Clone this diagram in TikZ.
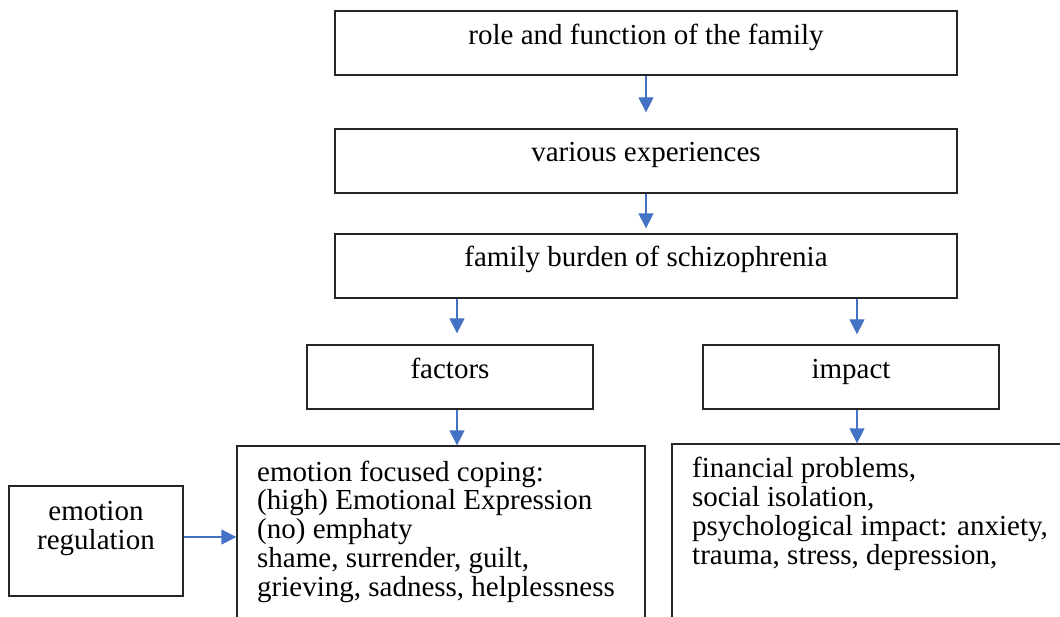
\documentclass[tikz,border=0pt]{standalone}
\usepackage{fontspec}
\setmainfont{Liberation Serif}
\usepackage{tikz}
\usetikzlibrary{arrows.meta}
\definecolor{arrowblue}{HTML}{4472C4}

\begin{document}
\begin{tikzpicture}[x=1pt,y=-1pt,inner sep=0pt,
  box/.style={rectangle,draw=black!85,line width=1.3pt},
  arr/.style={draw=arrowblue,line width=1.3pt,-{Triangle[width=15pt,length=15pt]}},
  txt/.style={black,font=\fontsize{29}{28.7}\selectfont,anchor=base}]
\useasboundingbox (0,0) rectangle (1060,617);
\clip (0,0) rectangle (1060,617);
%Node Coordinates
\node at (646,43) [box,minimum width=622pt,minimum height=64pt] (Role) {};
\node at (646,161) [box,minimum width=622pt,minimum height=64pt] (Various) {};
\node at (646,266) [box,minimum width=622pt,minimum height=64pt] (Burden) {};
\node at (450,377) [box,minimum width=286pt,minimum height=64pt] (Factors) {};
\node at (851,377) [box,minimum width=296pt,minimum height=64pt] (Impact) {};
\node at (441,543) [box,minimum width=408pt,minimum height=194pt] (Coping) {};
\node at (873.5,542) [box,minimum width=403pt,minimum height=196pt] (Effects) {};
\node at (96,541) [box,minimum width=174pt,minimum height=110pt] (Regulation) {};

%Node Labels (multi-line texts sit on their last line)
\path (Role.north) ++(0,34) node [txt] (RoleText) {role and function of the family};
\path (Various.north) ++(0,33) node [txt] (VariousText) {various experiences};
\path (Burden.north) ++(0,33) node [txt] (BurdenText) {family burden of schizophrenia};
\path (Factors.north) ++(0,34) node [txt] (FactorsText) {factors};
\path (Impact.north) ++(0,34) node [txt] (ImpactText) {impact};
\path (Regulation.north) ++(0,64) node [txt,align=center] (RegulationText) {emotion\\regulation};
\node [txt,anchor=base west,align=left] at (257,596) (CopingText)
  {emotion focused coping:\\(high) Emotional Expression\\(no) emphaty\\shame, surrender, guilt,\\grieving, sadness, helplessness};
\node [txt,anchor=base west,align=left] at (692,564) (EffectsText)
  {financial problems,\\social isolation,\\psychological impact: anxiety,\\trauma, stress, depression,};

%Connections
\coordinate (LeftDrop) at ([xshift=7pt]Factors.north);
\coordinate (RightDrop) at ([xshift=6pt]Impact.north);
\draw [arr,shorten >=16pt] (Role.south) -- (Various.north);
\draw [arr,shorten >=5pt] (Various.south) -- (Burden.north);
\draw [arr,shorten >=11pt] (LeftDrop |- Burden.south) -- (LeftDrop);
\draw [arr,shorten >=10pt] (RightDrop |- Burden.south) -- (RightDrop);
\draw [arr] (LeftDrop |- Factors.south) -- (LeftDrop |- Coping.north);
\draw [arr] (RightDrop |- Impact.south) -- (RightDrop |- Effects.north);
\draw [arr] ([yshift=4pt]Regulation.east) -- ([yshift=4pt]Regulation.east -| Coping.west);
\end{tikzpicture}
\end{document}
